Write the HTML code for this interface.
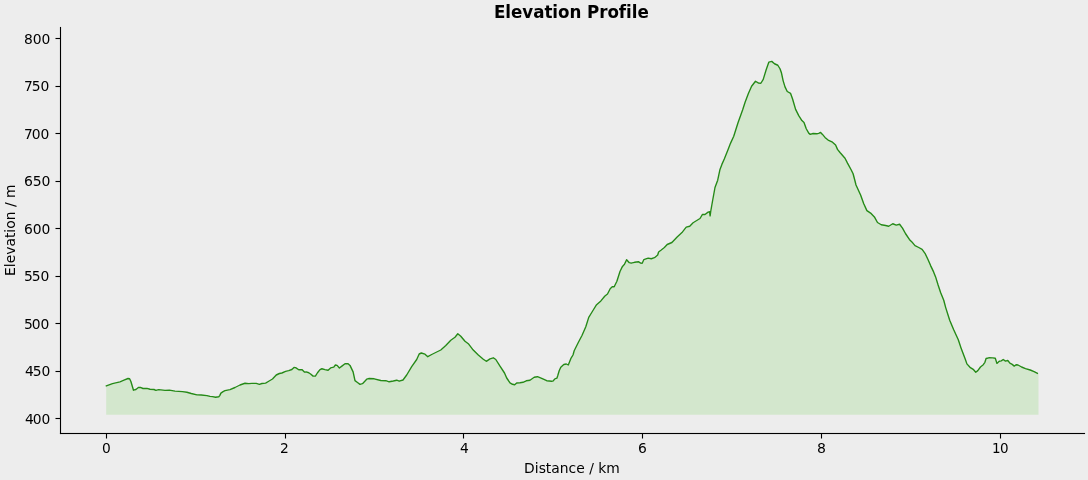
<!DOCTYPE html>
<html lang="en">
<head>
<meta charset="utf-8">
<title>Elevation Profile</title>
<style>
html,body{margin:0;padding:0;background:#ededed;}
body{width:1088px;height:480px;overflow:hidden;}
svg{display:block;}
text{font-family:"DejaVu Sans","Liberation Sans",sans-serif;fill:#000;font-variant-ligatures:none;font-feature-settings:"liga" 0,"clig" 0;}
.tick{font-size:13.89px;}
.lab{font-size:13.89px;}
.title{font-size:16.67px;font-weight:bold;}
</style>
</head>
<body>
<svg width="1088" height="480" viewBox="0 0 1088 480">
<rect x="0" y="0" width="1088" height="480" fill="#ededed"/>
<polygon points="106.20,414.75 106.20,386.70 113.00,384.10 120.50,382.40 124.50,380.70 128.50,379.00 130.10,379.20 131.40,382.00 134.00,390.70 136.40,390.00 138.90,388.00 140.90,387.90 143.50,389.00 147.40,388.90 150.50,389.75 154.50,390.00 156.40,390.90 159.25,390.10 165.50,390.90 169.90,390.60 175.50,391.60 183.00,392.10 187.40,392.75 191.75,394.00 197.40,395.40 201.75,395.50 207.40,396.10 210.50,396.90 213.00,397.10 216.10,397.75 219.25,397.25 220.25,396.10 221.40,393.60 223.60,392.10 225.50,391.10 230.50,390.10 235.50,388.00 240.50,385.50 245.50,383.75 249.25,384.10 252.40,383.90 256.75,383.90 259.90,384.90 262.40,384.00 266.10,383.60 269.25,381.75 273.00,379.50 276.75,375.50 279.90,374.00 282.40,373.50 286.10,371.90 289.25,371.10 292.40,370.00 294.50,368.00 296.10,368.10 299.25,370.25 302.40,370.10 304.90,372.60 306.75,372.40 309.25,373.25 311.10,374.50 313.60,376.60 315.90,376.60 318.00,373.25 320.50,370.10 322.40,369.25 325.50,370.10 328.60,370.75 331.10,368.40 334.25,367.60 335.90,365.50 337.60,365.90 339.90,368.50 342.40,366.60 345.50,364.25 348.60,364.25 350.50,365.90 353.60,372.40 355.50,381.10 358.00,383.00 360.50,384.90 363.00,384.20 367.20,379.70 369.70,379.00 374.70,379.30 381.30,381.00 386.30,381.20 389.70,382.30 393.80,381.50 397.20,380.70 399.70,381.70 403.50,380.50 407.20,375.50 412.20,367.20 417.20,360.00 419.70,354.50 421.80,353.50 425.50,354.70 428.30,357.20 432.20,355.00 437.20,352.50 441.30,350.50 446.30,346.00 451.30,340.80 455.50,337.70 458.30,334.20 461.30,336.70 465.50,341.70 468.80,344.20 473.00,349.70 478.80,355.50 483.80,359.70 486.80,361.80 490.50,359.30 493.80,358.30 496.30,360.00 500.50,366.70 505.00,373.50 507.20,378.50 510.50,383.30 513.00,384.80 515.20,385.30 517.20,383.50 520.50,383.20 523.50,382.80 526.80,381.30 530.50,380.80 534.70,377.80 538.00,377.20 542.20,378.80 547.20,381.20 552.20,381.80 553.80,381.30 555.40,379.40 557.40,378.70 558.30,376.00 559.70,371.30 561.30,367.80 564.30,365.00 566.80,364.50 568.80,365.50 571.30,359.20 573.50,355.50 574.70,351.30 578.80,343.00 582.50,336.00 586.30,327.20 589.25,317.90 593.00,311.75 597.10,305.20 601.40,301.40 605.20,296.75 608.00,294.50 610.70,289.25 613.00,287.10 614.70,287.30 617.40,281.75 620.50,272.00 623.00,266.90 625.00,264.80 627.10,260.20 629.80,263.20 631.60,263.70 635.00,262.80 639.20,262.20 641.10,263.60 642.70,263.70 644.30,260.20 648.70,258.60 651.80,259.25 655.00,258.20 658.20,255.50 659.10,252.50 661.75,250.50 664.90,248.00 667.70,245.00 672.40,243.00 677.40,237.75 683.00,232.40 686.75,227.60 690.25,226.75 693.60,223.25 700.50,219.00 703.00,214.90 705.50,215.00 708.60,212.60 710.10,212.30 710.60,216.30 711.30,211.50 713.00,201.75 715.50,188.00 718.20,180.70 720.50,169.90 722.40,164.90 724.90,159.25 728.60,149.90 731.10,143.60 734.25,136.75 738.60,123.00 743.10,110.50 745.60,102.70 748.80,94.25 752.10,86.75 756.00,81.75 759.10,83.60 761.40,83.75 763.75,79.90 766.60,70.50 769.40,62.60 772.25,61.90 775.00,64.25 778.30,65.75 780.50,69.25 782.00,73.60 783.60,81.10 785.50,87.40 787.75,92.00 791.10,93.90 793.00,99.25 796.10,109.90 799.25,116.10 802.40,121.10 804.50,123.00 806.75,129.25 809.25,133.60 810.75,134.90 813.60,134.00 817.40,134.20 819.25,133.90 821.10,132.90 823.00,134.90 825.50,137.90 828.60,140.60 833.00,142.70 836.10,145.50 838.00,149.90 840.50,153.00 845.50,158.70 848.00,163.60 851.75,170.50 853.60,174.25 855.25,180.50 856.50,185.50 861.10,195.50 864.25,204.25 867.40,211.10 871.10,213.60 874.90,217.40 878.00,223.00 881.75,225.25 886.10,226.00 889.25,226.75 893.25,224.25 896.75,225.60 900.10,224.75 903.00,228.60 906.10,234.25 909.90,239.90 912.40,242.40 915.50,246.10 919.25,248.00 922.60,249.90 925.50,253.80 928.60,260.20 931.10,266.10 934.10,272.40 936.10,277.40 938.60,285.50 941.10,293.00 944.25,300.70 946.20,308.10 950.20,320.70 954.10,330.00 958.80,340.20 961.90,349.60 965.80,359.70 967.40,364.40 970.50,367.80 974.10,370.20 976.30,372.70 978.30,371.10 981.00,367.50 983.80,365.20 985.40,362.80 986.60,359.00 989.30,358.30 993.20,358.40 995.80,358.70 997.40,363.90 999.75,361.75 1001.80,361.40 1003.70,360.00 1006.00,361.60 1008.30,361.00 1010.40,363.60 1012.70,364.90 1014.75,366.60 1016.60,365.20 1018.50,365.50 1022.10,367.50 1026.00,369.10 1030.70,370.50 1034.60,372.10 1038.50,374.10 1038.50,414.75" fill="rgb(211,231,205)" stroke="none"/>
<polyline points="105.70,386.20 112.50,383.60 120.00,381.90 124.00,380.20 128.00,378.50 129.60,378.70 130.90,381.50 133.50,390.20 135.90,389.50 138.40,387.50 140.40,387.40 143.00,388.50 146.90,388.40 150.00,389.25 154.00,389.50 155.90,390.40 158.75,389.60 165.00,390.40 169.40,390.10 175.00,391.10 182.50,391.60 186.90,392.25 191.25,393.50 196.90,394.90 201.25,395.00 206.90,395.60 210.00,396.40 212.50,396.60 215.60,397.25 218.75,396.75 219.75,395.60 220.90,393.10 223.10,391.60 225.00,390.60 230.00,389.60 235.00,387.50 240.00,385.00 245.00,383.25 248.75,383.60 251.90,383.40 256.25,383.40 259.40,384.40 261.90,383.50 265.60,383.10 268.75,381.25 272.50,379.00 276.25,375.00 279.40,373.50 281.90,373.00 285.60,371.40 288.75,370.60 291.90,369.50 294.00,367.50 295.60,367.60 298.75,369.75 301.90,369.60 304.40,372.10 306.25,371.90 308.75,372.75 310.60,374.00 313.10,376.10 315.40,376.10 317.50,372.75 320.00,369.60 321.90,368.75 325.00,369.60 328.10,370.25 330.60,367.90 333.75,367.10 335.40,365.00 337.10,365.40 339.40,368.00 341.90,366.10 345.00,363.75 348.10,363.75 350.00,365.40 353.10,371.90 355.00,380.60 357.50,382.50 360.00,384.40 362.50,383.70 366.70,379.20 369.20,378.50 374.20,378.80 380.80,380.50 385.80,380.70 389.20,381.80 393.30,381.00 396.70,380.20 399.20,381.20 403.00,380.00 406.70,375.00 411.70,366.70 416.70,359.50 419.20,354.00 421.30,353.00 425.00,354.20 427.80,356.70 431.70,354.50 436.70,352.00 440.80,350.00 445.80,345.50 450.80,340.30 455.00,337.20 457.80,333.70 460.80,336.20 465.00,341.20 468.30,343.70 472.50,349.20 478.30,355.00 483.30,359.20 486.30,361.30 490.00,358.80 493.30,357.80 495.80,359.50 500.00,366.20 504.50,373.00 506.70,378.00 510.00,382.80 512.50,384.30 514.70,384.80 516.70,383.00 520.00,382.70 523.00,382.30 526.30,380.80 530.00,380.30 534.20,377.30 537.50,376.70 541.70,378.30 546.70,380.70 551.70,381.30 553.30,380.80 554.90,378.90 556.90,378.20 557.80,375.50 559.20,370.80 560.80,367.30 563.80,364.50 566.30,364.00 568.30,365.00 570.80,358.70 573.00,355.00 574.20,350.80 578.30,342.50 582.00,335.50 585.80,326.70 588.75,317.40 592.50,311.25 596.60,304.70 600.90,300.90 604.70,296.25 607.50,294.00 610.20,288.75 612.50,286.60 614.20,286.80 616.90,281.25 620.00,271.50 622.50,266.40 624.50,264.30 626.60,259.70 629.30,262.70 631.10,263.20 634.50,262.30 638.70,261.70 640.60,263.10 642.20,263.20 643.80,259.70 648.20,258.10 651.30,258.75 654.50,257.70 657.70,255.00 658.60,252.00 661.25,250.00 664.40,247.50 667.20,244.50 671.90,242.50 676.90,237.25 682.50,231.90 686.25,227.10 689.75,226.25 693.10,222.75 700.00,218.50 702.50,214.40 705.00,214.50 708.10,212.10 709.60,211.80 710.10,215.80 710.80,211.00 712.50,201.25 715.00,187.50 717.70,180.20 720.00,169.40 721.90,164.40 724.40,158.75 728.10,149.40 730.60,143.10 733.75,136.25 738.10,122.50 742.60,110.00 745.10,102.20 748.30,93.75 751.60,86.25 755.50,81.25 758.60,83.10 760.90,83.25 763.25,79.40 766.10,70.00 768.90,62.10 771.75,61.40 774.50,63.75 777.80,65.25 780.00,68.75 781.50,73.10 783.10,80.60 785.00,86.90 787.25,91.50 790.60,93.40 792.50,98.75 795.60,109.40 798.75,115.60 801.90,120.60 804.00,122.50 806.25,128.75 808.75,133.10 810.25,134.40 813.10,133.50 816.90,133.70 818.75,133.40 820.60,132.40 822.50,134.40 825.00,137.40 828.10,140.10 832.50,142.20 835.60,145.00 837.50,149.40 840.00,152.50 845.00,158.20 847.50,163.10 851.25,170.00 853.10,173.75 854.75,180.00 856.00,185.00 860.60,195.00 863.75,203.75 866.90,210.60 870.60,213.10 874.40,216.90 877.50,222.50 881.25,224.75 885.60,225.50 888.75,226.25 892.75,223.75 896.25,225.10 899.60,224.25 902.50,228.10 905.60,233.75 909.40,239.40 911.90,241.90 915.00,245.60 918.75,247.50 922.10,249.40 925.00,253.30 928.10,259.70 930.60,265.60 933.60,271.90 935.60,276.90 938.10,285.00 940.60,292.50 943.75,300.20 945.70,307.60 949.70,320.20 953.60,329.50 958.30,339.70 961.40,349.10 965.30,359.20 966.90,363.90 970.00,367.30 973.60,369.70 975.80,372.20 977.80,370.60 980.50,367.00 983.30,364.70 984.90,362.30 986.10,358.50 988.80,357.80 992.70,357.90 995.30,358.20 996.90,363.40 999.25,361.25 1001.30,360.90 1003.20,359.50 1005.50,361.10 1007.80,360.50 1009.90,363.10 1012.20,364.40 1014.25,366.10 1016.10,364.70 1018.00,365.00 1021.60,367.00 1025.50,368.60 1030.20,370.00 1034.10,371.60 1038.00,373.60" fill="none" stroke="rgb(37,138,23)" stroke-width="1.39" stroke-linejoin="round" stroke-linecap="butt"/>
<g stroke="#000" stroke-width="1.11" fill="none">
<rect x="59.945" y="26.945" width="1.11" height="407.11" fill="#000" stroke="none"/>
<rect x="59.945" y="432.945" width="1025.11" height="1.11" fill="#000" stroke="none"/>
<rect x="105.945" y="434" width="1.11" height="4.5" fill="#000" stroke="none"/>
<rect x="284.945" y="434" width="1.11" height="4.5" fill="#000" stroke="none"/>
<rect x="462.945" y="434" width="1.11" height="4.5" fill="#000" stroke="none"/>
<rect x="641.945" y="434" width="1.11" height="4.5" fill="#000" stroke="none"/>
<rect x="820.945" y="434" width="1.11" height="4.5" fill="#000" stroke="none"/>
<rect x="999.945" y="434" width="1.11" height="4.5" fill="#000" stroke="none"/>
<rect x="55.5" y="417.945" width="4.5" height="1.11" fill="#000" stroke="none"/>
<rect x="55.5" y="370.945" width="4.5" height="1.11" fill="#000" stroke="none"/>
<rect x="55.5" y="322.945" width="4.5" height="1.11" fill="#000" stroke="none"/>
<rect x="55.5" y="275.945" width="4.5" height="1.11" fill="#000" stroke="none"/>
<rect x="55.5" y="227.945" width="4.5" height="1.11" fill="#000" stroke="none"/>
<rect x="55.5" y="180.945" width="4.5" height="1.11" fill="#000" stroke="none"/>
<rect x="55.5" y="132.945" width="4.5" height="1.11" fill="#000" stroke="none"/>
<rect x="55.5" y="85.945" width="4.5" height="1.11" fill="#000" stroke="none"/>
<rect x="55.5" y="37.945" width="4.5" height="1.11" fill="#000" stroke="none"/>
</g>
<text class="tick" transform="translate(106.50,452.90) scale(0.9920,1.0100)" text-anchor="middle">0</text>
<text class="tick" transform="translate(284.50,452.90) scale(0.9960,1.0200)" text-anchor="middle">2</text>
<text class="tick" transform="translate(464.50,452.90) scale(0.9960,1.0600)" text-anchor="middle">4</text>
<text class="tick" transform="translate(642.50,452.90) scale(1.0000,0.9900)" text-anchor="middle">6</text>
<text class="tick" transform="translate(821.50,452.90) scale(1.0140,1.0100)" text-anchor="middle">8</text>
<text class="tick" transform="translate(1000.25,452.90) scale(0.9700,1.0300)" text-anchor="middle" dx="0 -0.40 0.00">10</text>
<text class="tick" transform="translate(50.40,424.00) scale(0.9960,1.0300)" text-anchor="end" dx="0 -1.00 0.00">400</text>
<text class="tick" transform="translate(50.40,376.00) scale(1.0000,1.0300)" text-anchor="end" dx="0 -1.20 0.00">450</text>
<text class="tick" transform="translate(49.45,329.00) scale(1.0000,1.0600)" text-anchor="end" dx="0 -1.00 0.00">500</text>
<text class="tick" transform="translate(49.40,281.00) scale(1.0000,1.0300)" text-anchor="end" dx="0 -1.20 0.00">550</text>
<text class="tick" transform="translate(50.40,234.00)" text-anchor="end">600</text>
<text class="tick" transform="translate(50.40,186.00) scale(1.0080,0.9500)" text-anchor="end" dx="0 0.00 -0.20">650</text>
<text class="tick" transform="translate(49.45,139.00) scale(1.0000,1.0300)" text-anchor="end" dx="0 -1.00 0.00">700</text>
<text class="tick" transform="translate(49.40,91.00) scale(1.0000,1.0100)" text-anchor="end" dx="0 -1.20 0.00">750</text>
<text class="tick" transform="translate(50.40,44.00) scale(1.0000,1.0200)" text-anchor="end">800</text>
<text class="lab" transform="translate(571.95,472.80) scale(1.0000,1.0200)" text-anchor="middle">Distance / km</text>
<text class="lab" transform="translate(14.60,230.25) rotate(-90) scale(1.0000,1.0400)" text-anchor="middle">Elevation / m</text>
<text class="title" transform="translate(571.35,18.30) scale(1.0030,1.1100)" text-anchor="middle" letter-spacing="-0.05">Elevation Profile</text>
</svg>
</body>
</html>
